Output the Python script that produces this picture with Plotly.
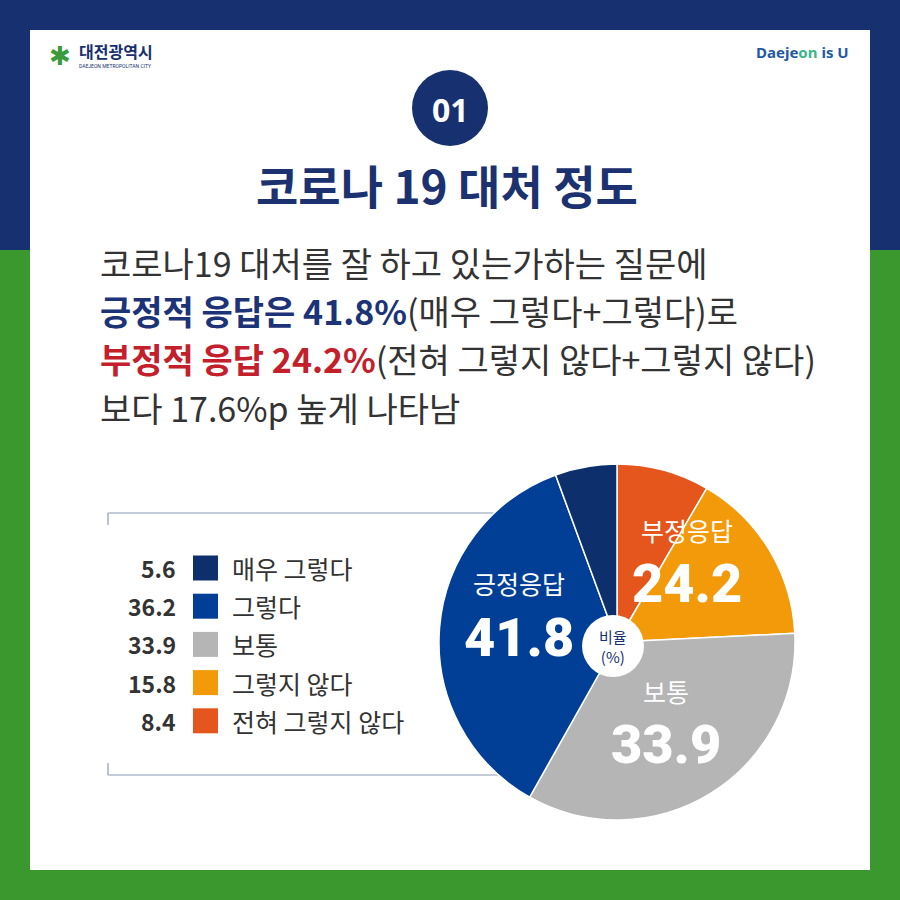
import plotly.graph_objects as go

# ---- data ----
categories = ["전혀 그렇지 않다", "그렇지 않다", "보통", "그렇다", "매우 그렇다"]
values = [8.4, 15.8, 33.9, 36.2, 5.6]
colors = ["#e4561b", "#f39a0b", "#b5b5b5", "#013f97", "#0d2f6b"]

legend_order = ["매우 그렇다", "그렇다", "보통", "그렇지 않다", "전혀 그렇지 않다"]

group_labels = ["부정응답", "보통", "긍정응답"]
group_values = [24.2, 33.9, 41.8]

NAVY = "#17306f"
GREEN = "#3a982f"
KR = "Noto Sans CJK KR"

W = H = 900

def px(x):
    return x / W

def py(y):
    return 1 - y / H

fig = go.Figure()

cx, cy, r = 617, 642, 178
fig.add_trace(go.Pie(
    labels=categories, values=values, sort=False, direction="clockwise",
    rotation=0, marker=dict(colors=colors, line=dict(color="white", width=1.5)),
    textinfo="none", hoverinfo="label+value", showlegend=False,
    domain=dict(x=[px(cx - r), px(cx + r)], y=[py(cy + r), py(cy - r)]),
))

shapes = []
shapes.append(dict(type="rect", xref="paper", yref="paper", x0=0, x1=1, y0=py(250), y1=1,
                   fillcolor=NAVY, line_width=0, layer="below"))
shapes.append(dict(type="rect", xref="paper", yref="paper", x0=px(30), x1=px(870), y0=py(870), y1=py(30),
                   fillcolor="white", line_width=0, layer="below"))
lc = "#8c9ab3"
shapes += [
    dict(type="line", xref="paper", yref="paper", x0=px(108), x1=px(600), y0=py(513), y1=py(513),
         line=dict(color=lc, width=1.2), layer="below"),
    dict(type="line", xref="paper", yref="paper", x0=px(108), x1=px(600), y0=py(775), y1=py(775),
         line=dict(color=lc, width=1.2), layer="below"),
    dict(type="line", xref="paper", yref="paper", x0=px(108), x1=px(108), y0=py(513), y1=py(525),
         line=dict(color=lc, width=1.2), layer="below"),
    dict(type="line", xref="paper", yref="paper", x0=px(108), x1=px(108), y0=py(763), y1=py(775),
         line=dict(color=lc, width=1.2), layer="below"),
]
shapes.append(dict(type="circle", xref="paper", yref="paper", x0=px(412), x1=px(488), y0=py(146), y1=py(70),
                   fillcolor=NAVY, line_width=0, layer="above"))
ccx, ccy, cr = 613, 646, 31
shapes.append(dict(type="circle", xref="paper", yref="paper", x0=px(ccx - cr), x1=px(ccx + cr),
                   y0=py(ccy + cr), y1=py(ccy - cr), fillcolor="white", line_width=0, layer="above"))

row_y0 = 568
row_dy = 38.2
color_of = dict(zip(categories, colors))
value_of = dict(zip(categories, values))
anns = []
for i, cat in enumerate(legend_order):
    yc = row_y0 + i * row_dy
    shapes.append(dict(type="rect", xref="paper", yref="paper", x0=px(193), x1=px(218),
                       y0=py(yc + 12.5), y1=py(yc - 12.5), fillcolor=color_of[cat], line_width=0))
    anns.append(dict(x=px(178), y=py(yc), xanchor="right", yanchor="middle", text=f"{value_of[cat]}",
                     font=dict(family=KR, size=23, color="#333333", weight="bold")))
    anns.append(dict(x=px(230), y=py(yc), xanchor="left", yanchor="middle", text=cat,
                     font=dict(family=KR, size=25, color="#333333")))

anns.append(dict(x=px(60), y=py(56), xanchor="center", yanchor="middle", text="✱",
                 font=dict(family="DejaVu Sans", size=26, color="#3a9a3c")))
anns.append(dict(x=px(77), y=py(51), xanchor="left", yanchor="middle", text="<b>대전광역시</b>",
                 font=dict(family=KR, size=16, color=NAVY)))
anns.append(dict(x=px(77), y=py(66), xanchor="left", yanchor="middle", text="DAEJEON METROPOLITAN CITY",
                 font=dict(family="Roboto", size=5, color=NAVY)))
anns.append(dict(x=px(851), y=py(52), xanchor="right", yanchor="middle",
                 text="<b>Daeje<span style='color:#3bb58a'>on</span> is U</b>",
                 font=dict(family="Noto Sans", size=15, color="#1f5aa5")))

anns.append(dict(x=px(450), y=py(109), xanchor="center", yanchor="middle", text="<b>01</b>",
                 font=dict(family="Noto Sans", size=32, color="white")))
anns.append(dict(x=px(447), y=py(184), xanchor="center", yanchor="middle", text="<b>코로나 19 대처 정도</b>",
                 font=dict(family=KR, size=46, color="#1b3170")))

pf = dict(family=KR, size=34, color="#333333")
lines = [
    "코로나19 대처를 잘 하고 있는가하는 질문에",
    "<b><span style='color:#1c3377'>긍정적 응답은 41.8%</span></b>(매우 그렇다+그렇다)로",
    "<b><span style='color:#c3202b'>부정적 응답 24.2%</span></b>(전혀 그렇지 않다+그렇지 않다)",
    "보다 17.6%p 높게 나타남",
]
for i, t in enumerate(lines):
    anns.append(dict(x=px(98), y=py(262 + i * 48.5), xanchor="left", yanchor="middle", text=t, font=pf))

lab_font = dict(family=KR, size=25, color="white")
num_font = dict(family="Roboto", size=54, color="white", weight=900)
label_pos = {"부정응답": (687, 530, 583), "보통": (666, 691, 744), "긍정응답": (519, 583, 637)}
for name, val in zip(group_labels, group_values):
    x, y1, y2 = label_pos[name]
    anns.append(dict(x=px(x), y=py(y1), xanchor="center", yanchor="middle", text=name, font=lab_font))
    anns.append(dict(x=px(x), y=py(y2), xanchor="center", yanchor="middle", text=f"{val}", font=num_font))

anns.append(dict(x=px(ccx), y=py(ccy), xanchor="center", yanchor="middle", text="비율<br>(%)",
                 font=dict(family=KR, size=15, color=NAVY)))

for a in anns:
    a.update(xref="paper", yref="paper", showarrow=False)

fig.update_layout(
    width=W, height=H, margin=dict(l=0, r=0, t=0, b=0),
    paper_bgcolor=GREEN, plot_bgcolor=GREEN,
    shapes=shapes, annotations=anns,
)

fig.write_html("out.html")
